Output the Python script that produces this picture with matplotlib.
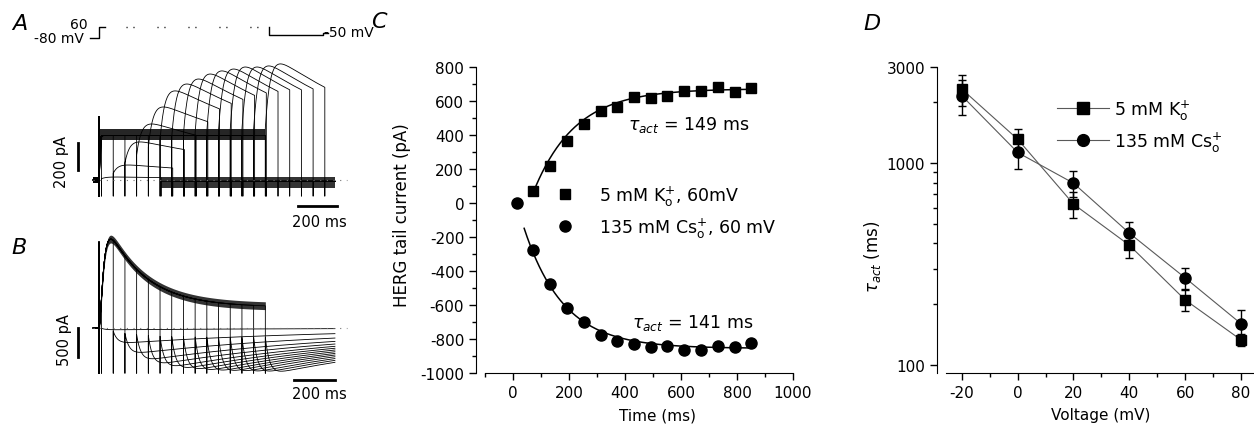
import numpy as np
import matplotlib
matplotlib.use("Agg")
import matplotlib.pyplot as plt
from matplotlib.lines import Line2D
from matplotlib.ticker import FixedLocator, MultipleLocator, NullFormatter

# ---------------- data ----------------
# Panel C : tail current vs. duration of the +60 mV step
time_K_ms = [73, 132, 192, 253, 313, 373, 432, 492, 551, 612, 672, 733, 792, 851]
tail_K_pA = [69, 218, 363, 465, 543, 567, 622, 616, 628, 657, 657, 680, 655, 675]
time_Cs_ms = [13, 73, 132, 192, 253, 313, 373, 432, 492, 551, 612, 672, 733, 792, 851]
tail_Cs_pA = [0, -275, -476, -618, -700, -776, -813, -829, -847, -843, -863, -863, -843, -845, -825]
# mono-exponential fits shown in panel C (amplitude, delay, tau, range)
fit_K = dict(amp=672, t0=58, tau=149, start=73, end=851)
fit_Cs = dict(amp=-855, t0=13, tau=141, start=40, end=851)

# Panel D : activation time constant vs voltage
voltage_mV = [-20, 0, 20, 40, 60, 80]
tau_K_ms = [2330, 1315, 627, 392, 210, 133]
tau_K_err = [410, 165, 94, 53, 26, 9]
tau_Cs_ms = [2160, 1130, 796, 450, 270, 160]
tau_Cs_err = [430, 190, 114, 58, 33, 27]

# Panels A / B : current families (durations of the +60 mV step, tail amplitudes)
prepulse_ms = [13, 73, 133, 193, 253, 313, 373, 433, 493, 553, 613, 673, 733, 793, 853]
tailA_peak_pA = [22, 111, 282, 415, 541, 660, 711, 748, 785, 808, 822, 837, 837, 845, 860]
tailB_peak_pA = [-30, -250, -420, -530, -600, -650, -680, -700, -715, -725, -730, -735, -740, -742, -745]
stepA_pA = 330          # steady current during the +60 mV step (A)
stepB_plateau_pA = 360  # late current during the +60 mV step (B)
stepB_transient_pA = 1750
tailA_ms = 305          # duration of -50 mV step in A
sweep_start_ms = -30
sweep_end_ms = 1210

# voltage protocol
hold_mV, step_mV, tail_mV = -80, 60, -50

# ---------------- figure ----------------
plt.rcParams["font.family"] = ["DejaVu Sans"]
plt.rcParams["mathtext.fontset"] = "dejavusans"
plt.rcParams["axes.unicode_minus"] = False
W, H = 1254, 427
fig = plt.figure(figsize=(W / 100, H / 100), dpi=100)


def px_axes(l, t, r, b):
    return fig.add_axes([l / W, 1 - b / H, (r - l) / W, (b - t) / H])


def blank(ax):
    for s in ax.spines.values():
        s.set_visible(False)
    ax.set_xticks([])
    ax.set_yticks([])
    ax.patch.set_alpha(0)


PX_PER_MS = 0.195
T0_PX = 99


def t_lim(l, r):
    return ((l - T0_PX) / PX_PER_MS, (r - T0_PX) / PX_PER_MS)


# ---------- protocol ----------
axp = px_axes(55, 15, 350, 45)
blank(axp)
axp.set_xlim(*t_lim(55, 350))
axp.set_ylim(-156.4, 225.5)
lw_p = 1.0
axp.plot([-46, 0, 0, 31], [hold_mV, hold_mV, step_mV, step_mV], color="k", lw=lw_p)
axp.plot([138, 836], [step_mV, step_mV], color="k", lw=lw_p, ls=(0, (0.8, 4.2, 0.8, 16.5)))
t_last = prepulse_ms[-1] + 19
axp.plot([t_last, t_last, t_last + tailA_ms - 28, t_last + tailA_ms - 28, t_last + tailA_ms - 5],
         [step_mV, tail_mV + 10, tail_mV + 10, tail_mV + 30, tail_mV + 30], color="k", lw=lw_p)
axp.text(-60, 98, "60", ha="right", va="center", fontsize=10)
axp.text(-80, -78, "-80 mV", ha="right", va="center", fontsize=10)
axp.text(t_last + tailA_ms - 22, -5, "-50 mV", ha="left", va="center", fontsize=10)

# ---------- panel A ----------
axA = px_axes(55, 45, 350, 215)
blank(axA)
axA.set_xlim(*t_lim(55, 350))
yA = lambda py: (181 - py) * 7.407
axA.set_ylim(yA(215), yA(45))
spike_lo_A = -119
spike_hi_A = 467


def tail_shape(tt, frac0, tr, td):
    g = (1 - (1 - frac0) * np.exp(-tt / tr)) * np.exp(-tt / td)
    return g / g.max()


for d, amp in zip(prepulse_ms, tailA_peak_pA):
    ts = np.linspace(0, d, 60)
    Is = stepA_pA * (1 - np.exp(-ts / 3.0))
    tt = np.linspace(0, tailA_ms, 150)
    It = amp * tail_shape(tt, 0.4, 25, 900)
    t_rest = np.linspace(d + tailA_ms, sweep_end_ms, 20)
    x = np.concatenate([[sweep_start_ms, 0, 0, 0], ts, [d, d], d + tt,
                        [d + tailA_ms, d + tailA_ms], t_rest])
    y = np.concatenate([[0, 0, spike_hi_A, spike_lo_A], Is, [spike_lo_A, It[0]], It,
                        [spike_lo_A, -10], np.full(len(t_rest), -10)])
    axA.plot(x, y, color="k", lw=0.6)
# noisy bands
tb = np.linspace(2, prepulse_ms[-1], 50)
axA.fill_between(tb, stepA_pA - 35, stepA_pA + 45, color="k", lw=0, alpha=0.85)
tb2 = np.linspace(prepulse_ms[0] + tailA_ms, sweep_end_ms, 50)
axA.fill_between(tb2, -60, 25, color="k", lw=0, alpha=0.8)
axA.fill_between([sweep_start_ms, -5], -25, 20, color="k", lw=0)
axA.hlines(0, sweep_start_ms, 1272, color="0.45", lw=0.8, ls=(0, (1, 5)))
# scale bars
axA.plot([-108, -108], [0 + 75, 200 + 75], color="k", lw=2, clip_on=False)
axA.text(-190, 140, "200 pA", rotation=90, ha="center", va="center", fontsize=10.5)
axA.plot([1020, 1220], [-190, -190], color="k", lw=2, clip_on=False)
axA.text(1130, -304, "200 ms", ha="center", va="center", fontsize=10.5)

# ---------- panel B ----------
axB = px_axes(55, 215, 350, 400)
blank(axB)
axB.set_xlim(*t_lim(55, 350))
yB = lambda py: (329 - py) * 17.24
axB.set_ylim(yB(400), yB(215))
spike_lo_B = -780


def stepB(t):
    return (1 - np.exp(-t / 18.0)) ** 2 * (stepB_plateau_pA + stepB_transient_pA * np.exp(-t / 195.0))


for d, amp in zip(prepulse_ms, tailB_peak_pA):
    ts = np.linspace(0, d, 120)
    Is = stepB(ts)
    tt = np.linspace(0, sweep_end_ms - d, 200)
    It = amp * tail_shape(tt, 0.2, 22, 1100)
    x = np.concatenate([[sweep_start_ms, 0, 0, 0], ts, [d, d], d + tt])
    y = np.concatenate([[0, 0, 1480, spike_lo_B], Is, [spike_lo_B, It[0]], It])
    axB.plot(x, y, color="k", lw=0.6)
tb = np.linspace(3, prepulse_ms[-1], 200)
axB.fill_between(tb, stepB(tb) - 65, stepB(tb) + 70, color="k", lw=0, alpha=0.8)
axB.fill_between([sweep_start_ms, -5], -25, 25, color="k", lw=0)
axB.hlines(0, sweep_start_ms, 1272, color="0.45", lw=0.8, ls=(0, (1, 5)))
axB.plot([-110, -110], [0, -500], color="k", lw=2, clip_on=False)
axB.text(-175, -190, "500 pA", rotation=90, ha="center", va="center", fontsize=10.5)
axB.plot([1000, 1210], [-897, -897], color="k", lw=2, clip_on=False)
axB.text(1130, -1121, "200 ms", ha="center", va="center", fontsize=10.5)

# ---------- panel C ----------
axC = px_axes(476, 68, 793, 374)
axC.set_xlim(-132, 1000)
axC.set_ylim(-1000, 800)
for s in ("top", "right"):
    axC.spines[s].set_visible(False)
axC.spines["bottom"].set_bounds(-100, 1000)
axC.xaxis.set_major_locator(FixedLocator([0, 200, 400, 600, 800, 1000]))
axC.xaxis.set_minor_locator(FixedLocator([-100, 100, 300, 500, 700, 900]))
axC.yaxis.set_major_locator(MultipleLocator(200))
axC.yaxis.set_minor_locator(MultipleLocator(100))
axC.tick_params(which="major", direction="out", length=5, width=1, labelsize=11)
axC.tick_params(which="minor", direction="out", length=3, width=1)

for f in (fit_K, fit_Cs):
    tf = np.linspace(f["start"], f["end"], 300)
    axC.plot(tf, f["amp"] * (1 - np.exp(-(tf - f["t0"]) / f["tau"])), color="k", lw=1.1)
hK, = axC.plot(time_K_ms, tail_K_pA, ls="none", marker="s", ms=7.5, color="k")
hCs, = axC.plot(time_Cs_ms, tail_Cs_pA, ls="none", marker="o", ms=8, color="k")
axC.legend([hK, hCs], [r"5 mM K$^{+}_{\rm o}$, 60mV", r"135 mM Cs$^{+}_{\rm o}$, 60 mV"],
           loc="center left", bbox_to_anchor=(0.253, 0.528), frameon=False, fontsize=12.5,
           handlelength=1.0, handletextpad=1.45, labelspacing=0.45, borderpad=0, borderaxespad=0)
axC.text(411, 465, r"$\tau_{act}$ = 149 ms", fontsize=12.5, ha="left", va="center")
axC.text(425, -700, r"$\tau_{act}$ = 141 ms", fontsize=12.5, ha="left", va="center")
axC.set_ylabel("HERG tail current (pA)", fontsize=12)
axC.yaxis.set_label_coords(-0.204, 0.52)
axC.set_xlabel("Time (ms)", fontsize=11)
axC.xaxis.set_label_coords(0.571, -0.112)

# ---------- panel D ----------
axD = px_axes(937, 68, 1254, 374)
axD.set_yscale("log")
axD.set_xlim(-28.9, 84.7)
axD.set_ylim(91, 3000)
for s in ("top", "right"):
    axD.spines[s].set_visible(False)
axD.spines["bottom"].set_bounds(-25.6, 84.7)
axD.xaxis.set_major_locator(FixedLocator([-20, 0, 20, 40, 60, 80]))
axD.xaxis.set_minor_locator(FixedLocator([-10, 10, 30, 50, 70]))
axD.yaxis.set_major_locator(FixedLocator([100, 1000, 3000]))
axD.yaxis.set_major_formatter(plt.FuncFormatter(lambda v, p: f"{v:.0f}"))
axD.yaxis.set_minor_locator(FixedLocator([200, 300, 400, 500, 600, 700, 800, 900, 2000]))
axD.yaxis.set_minor_formatter(NullFormatter())
axD.tick_params(which="major", direction="out", length=5, width=1, labelsize=11)
axD.tick_params(which="minor", direction="out", length=3, width=1)

line_col = "0.35"
axD.plot(voltage_mV, tau_K_ms, color=line_col, lw=0.8, zorder=1)
axD.plot(voltage_mV, tau_Cs_ms, color=line_col, lw=0.8, zorder=1)
axD.errorbar(voltage_mV, tau_K_ms, yerr=tau_K_err, fmt="s", ms=7.5, color="k",
             capsize=3, elinewidth=1, capthick=1, zorder=3)
axD.errorbar(voltage_mV, tau_Cs_ms, yerr=tau_Cs_err, fmt="o", ms=8, color="k",
             capsize=3, elinewidth=1, capthick=1, zorder=3)
lhK = Line2D([], [], color=line_col, lw=0.8, marker="s", ms=8, mfc="k", mec="k")
lhCs = Line2D([], [], color=line_col, lw=0.8, marker="o", ms=8.5, mfc="k", mec="k")
axD.legend([lhK, lhCs], [r"5 mM K$^{+}_{\rm o}$", r"135 mM Cs$^{+}_{\rm o}$"],
           loc="center left", bbox_to_anchor=(0.379, 0.809), frameon=False, fontsize=12.5,
           handlelength=3.0, handletextpad=0.3, labelspacing=0.45, borderpad=0, borderaxespad=0)
axD.set_ylabel(r"$\tau_{act}$ (ms)", fontsize=12)
axD.yaxis.set_label_coords(-0.170, 0.382)
axD.set_xlabel("Voltage (mV)", fontsize=11)
axD.xaxis.set_label_coords(0.517, -0.112)

# panel letters
for lab, (px, py) in {"A": (20, 24), "B": (19, 248), "C": (379, 22), "D": (872, 24)}.items():
    fig.text(px / W, 1 - py / H, lab, ha="center", va="center", fontsize=16, style="italic")

fig.savefig("out.png", dpi=100)
